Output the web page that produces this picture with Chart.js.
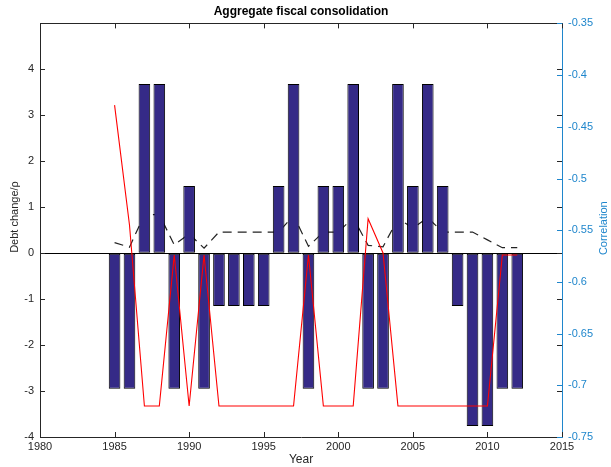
<!DOCTYPE html>
<html>
<head>
<meta charset="utf-8">
<script src="https://cdn.jsdelivr.net/npm/chart.js@4.4.0/dist/chart.umd.min.js"></script>
<style>
  html, body { margin: 0; padding: 0; background: #ffffff; }
  canvas { display: block; }
</style>
</head>
<body>
<canvas id="c" width="611" height="467"></canvas>
<script>
// ---- data ----
const years = [1985, 1986, 1987, 1988, 1989, 1990, 1991, 1992, 1993, 1994,
               1995, 1996, 1997, 1998, 1999, 2000, 2001, 2002, 2003, 2004,
               2005, 2006, 2007, 2008, 2009, 2010, 2011, 2012];
const debtChange = [-2.95, -2.95, 3.68, 3.68, -2.95, 1.46, -2.95, -1.15, -1.15, -1.15,
                    -1.15, 1.46, 3.68, -2.95, 1.46, 1.46, 3.68, -2.95, -2.95, 3.68,
                    1.46, 3.68, 1.46, -1.15, -3.76, -3.76, -2.95, -2.95];
const correlation = [-0.429, -0.545, -0.72, -0.72, -0.574, -0.72, -0.574, -0.72, -0.72, -0.72,
                     -0.72, -0.72, -0.72, -0.574, -0.72, -0.72, -0.72, -0.539, -0.572, -0.72,
                     -0.72, -0.72, -0.72, -0.72, -0.72, -0.72, -0.574, -0.574];
const dashedSeries = [0.23, 0.13, 0.84, 0.84, 0.18, 0.42, 0.11, 0.46, 0.46, 0.46,
                      0.46, 0.46, 0.82, 0.15, 0.46, 0.46, 0.77, 0.17, 0.14, 0.75,
                      0.55, 0.77, 0.46, 0.46, 0.46, 0.29, 0.12, 0.12];
const xTickValues = [1980, 1985, 1990, 1995, 2000, 2005, 2010, 2015];
const leftTickValues = [-4, -3, -2, -1, 0, 1, 2, 3, 4];
const rightTickValues = [-0.75, -0.7, -0.65, -0.6, -0.55, -0.5, -0.45, -0.4, -0.35];
const leftTitle = 'Debt change/ρ';
const rightTitle = 'Correlation';

const FONT = "'Liberation Sans', Arial, Helvetica, sans-serif";
const TXT = '#262626';
const BLUE = '#1f86cc';

const pts = (vals) => years.map((yr, i) => ({ x: yr, y: vals[i] }));

const inwardTicks = {
  id: 'inwardTicks',
  afterDatasetsDraw(chart) {
    const { ctx, chartArea: { left, right, top, bottom }, scales: { x, y, y1 } } = chart;
    ctx.save();
    ctx.lineWidth = 1;
    ctx.strokeStyle = TXT;
    ctx.beginPath();
    xTickValues.forEach(v => {
      const px = Math.round(x.getPixelForValue(v)) + 0.5;
      ctx.moveTo(px, bottom); ctx.lineTo(px, bottom - 5);
      ctx.moveTo(px, top); ctx.lineTo(px, top + 5);
    });
    leftTickValues.forEach(v => {
      const py = Math.round(y.getPixelForValue(v)) + 0.5;
      ctx.moveTo(left, py); ctx.lineTo(left + 5, py);
      ctx.moveTo(right, py); ctx.lineTo(right - 5, py);
    });
    ctx.moveTo(left, Math.round(top) + 0.5);
    ctx.lineTo(right, Math.round(top) + 0.5);
    ctx.stroke();
    ctx.strokeStyle = BLUE;
    ctx.beginPath();
    rightTickValues.forEach(v => {
      const py = Math.round(y1.getPixelForValue(v)) + 0.5;
      ctx.moveTo(right, py); ctx.lineTo(right - 5, py);
    });
    ctx.stroke();

    // rotated axis titles (both read bottom-to-top)
    ctx.font = '11px ' + FONT;
    ctx.textAlign = 'center';
    ctx.textBaseline = 'middle';
    ctx.fillStyle = TXT;
    ctx.save();
    ctx.translate(15, 217);
    ctx.rotate(-Math.PI / 2);
    ctx.fillText(leftTitle, 0, 0);
    ctx.restore();
    ctx.fillStyle = BLUE;
    ctx.save();
    ctx.translate(604, (top + bottom) / 2 - 2);
    ctx.rotate(-Math.PI / 2);
    ctx.fillText(rightTitle, 0, 0);
    ctx.restore();
    ctx.restore();
  }
};

new Chart(document.getElementById('c'), {
  data: {
    datasets: [
      {
        type: 'line',
        label: 'Correlation',
        data: pts(correlation),
        yAxisID: 'y1',
        borderColor: '#ff0000',
        borderWidth: 1.1,
        pointRadius: 0,
        tension: 0,
        order: 0
      },
      {
        type: 'bar',
        label: 'Debt change',
        data: pts(debtChange),
        yAxisID: 'y',
        backgroundColor: '#352A87',
        borderColor: '#000000',
        borderWidth: 1,
        borderSkipped: false,
        barPercentage: 0.78,
        categoryPercentage: 1,
        order: 1
      },
      {
        type: 'line',
        label: 'Threshold',
        data: pts(dashedSeries),
        yAxisID: 'y',
        borderColor: '#222222',
        borderWidth: 1.2,
        borderDash: [9, 6],
        pointRadius: 0,
        tension: 0,
        order: 2
      }
    ]
  },
  options: {
    responsive: false,
    animation: false,
    devicePixelRatio: 1,
    layout: { padding: { left: 0, right: 0, top: 0, bottom: 0 } },
    plugins: {
      legend: { display: false },
      tooltip: { enabled: false },
      title: {
        display: true,
        text: 'Aggregate fiscal consolidation',
        fullSize: false,
        color: '#000',
        font: { family: FONT, size: 12, weight: 'bold' },
        padding: { top: 4, bottom: 5 }
      }
    },
    scales: {
      x: {
        type: 'linear',
        min: 1980,
        max: 2015,
        offset: false,
        afterBuildTicks: (s) => { s.ticks = xTickValues.map(v => ({ value: v })); },
        afterFit: (s) => { s.height = 30; },
        ticks: {
          color: TXT,
          font: { family: FONT, size: 11 },
          padding: 3,
          maxRotation: 0,
          callback: (v) => String(v)
        },
        grid: { display: true, drawOnChartArea: false, drawTicks: false },
        border: { display: true, color: TXT, width: 1 },
        title: {
          display: true,
          text: 'Year',
          color: TXT,
          font: { family: FONT, size: 12 },
          padding: { top: 0, bottom: 0 }
        }
      },
      y: {
        position: 'left',
        min: -4,
        max: 5,
        afterBuildTicks: (s) => { s.ticks = leftTickValues.concat([5]).map(v => ({ value: v })); },
        afterFit: (s) => { s.width = 40; },
        ticks: {
          color: TXT,
          font: { family: FONT, size: 11 },
          padding: 6,
          callback: (v) => (v >= 5 ? '' : String(v))
        },
        grid: {
          drawOnChartArea: true,
          drawTicks: false,
          color: (c) => (c.tick && c.tick.value === 0 ? '#000000' : 'rgba(0,0,0,0)'),
          lineWidth: 1
        },
        border: { display: true, color: TXT, width: 1 },
        title: { display: false }
      },
      y1: {
        position: 'right',
        min: -0.75,
        max: -0.35,
        afterBuildTicks: (s) => { s.ticks = rightTickValues.map(v => ({ value: v })); },
        afterFit: (s) => { s.width = 49; },
        ticks: {
          color: BLUE,
          font: { family: FONT, size: 11 },
          padding: 6,
          callback: (v) => String(Number(v.toFixed(2)))
        },
        grid: { display: true, drawOnChartArea: false, drawTicks: false },
        border: { display: true, color: BLUE, width: 1 },
        title: { display: false }
      }
    }
  },
  plugins: [inwardTicks]
});
</script>
</body>
</html>
